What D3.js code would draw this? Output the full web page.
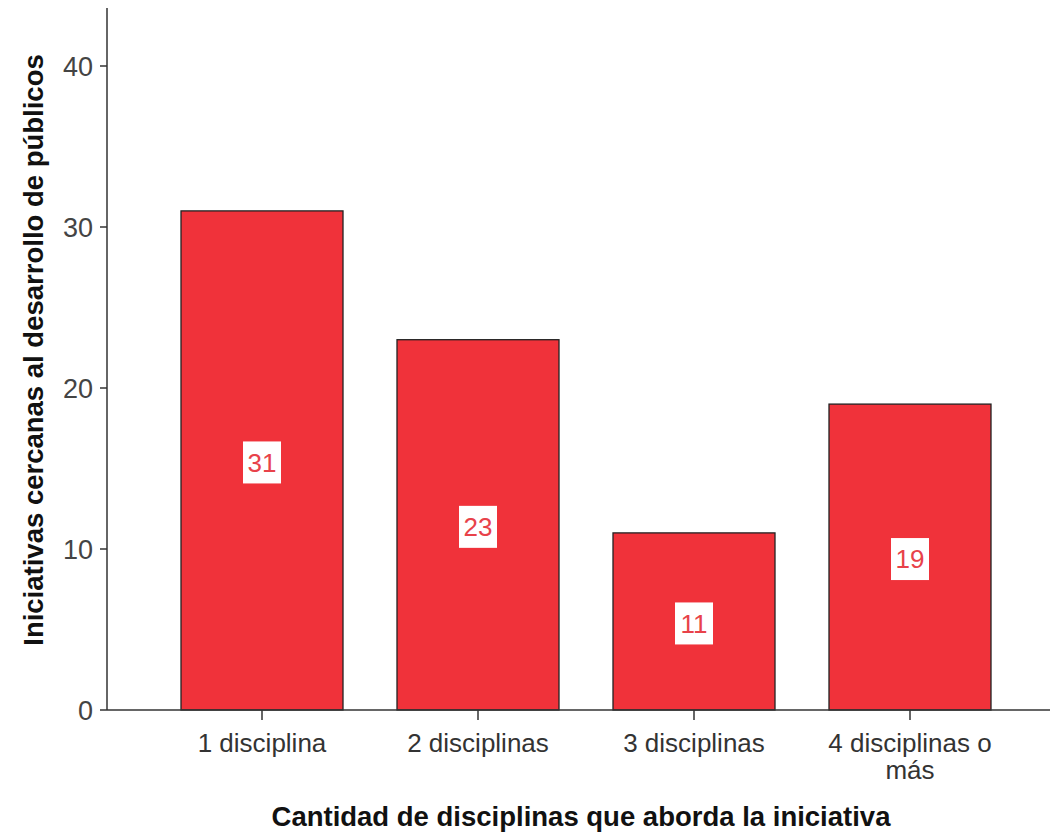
<!DOCTYPE html>
<html><head><meta charset="utf-8">
<script src="https://cdn.jsdelivr.net/npm/d3@7"></script>
<style>body{margin:0;background:#fff}svg{display:block}</style>
</head><body>
<script>
const categories = ["1 disciplina", "2 disciplinas", "3 disciplinas", "4 disciplinas o más"];
const categoryLines = [["1 disciplina"], ["2 disciplinas"], ["3 disciplinas"], ["4 disciplinas o", "más"]];
const values = [31, 23, 11, 19];
const yTicks = [0, 10, 20, 30, 40];
const xTitle = "Cantidad de disciplinas que aborda la iniciativa";
const yTitle = "Iniciativas cercanas al desarrollo de públicos";

const W = 1050, H = 832;
const FONT = "Liberation Sans, Arial, sans-serif";
const svg = d3.select("body").append("svg").attr("width", W).attr("height", H);

const y = d3.scaleLinear().domain([0, 10]).range([710, 549]);
const x = d3.scaleBand().domain(categories).range([154, 1018]).paddingInner(0.25).paddingOuter(0.125);

// bars
svg.selectAll("rect.bar").data(values).enter().append("rect")
  .attr("x", (d, i) => x(categories[i]))
  .attr("y", d => y(d))
  .attr("width", x.bandwidth())
  .attr("height", d => y(0) - y(d))
  .attr("fill", "#F0323A").attr("stroke", "#222").attr("stroke-width", 1.3);

// value labels
const lab = svg.selectAll("g.lab").data(values).enter().append("g")
  .attr("transform", (d, i) => `translate(${x(categories[i]) + x.bandwidth() / 2},${y(d / 2)})`);
lab.append("rect").attr("x", -19).attr("y", -19).attr("width", 38).attr("height", 42).attr("fill", "#fff");
lab.append("text").text(d => d).attr("text-anchor", "middle").attr("y", 2).attr("dy", "0.36em")
  .attr("font-family", FONT).attr("font-size", 26).attr("fill", "#E8424A");

// y axis
const yTop = y(43.6);
svg.append("line").attr("x1", 107).attr("x2", 107).attr("y1", yTop).attr("y2", 710).attr("stroke", "#333").attr("stroke-width", 1.5);
const yt = svg.selectAll("g.yt").data(yTicks).enter().append("g").attr("transform", d => `translate(0,${y(d)})`);
yt.append("line").attr("x1", 100).attr("x2", 107).attr("stroke", "#333").attr("stroke-width", 1.5);
yt.append("text").text(d => d).attr("x", 93).attr("dy", "0.36em").attr("text-anchor", "end")
  .attr("font-family", FONT).attr("font-size", 27).attr("fill", "#444");

// x axis
svg.append("line").attr("x1", 107).attr("x2", 1050).attr("y1", 710).attr("y2", 710).attr("stroke", "#333").attr("stroke-width", 1.5);
const xt = svg.selectAll("g.xt").data(categories).enter().append("g")
  .attr("transform", d => `translate(${x(d) + x.bandwidth() / 2},710)`);
xt.append("line").attr("y1", 0).attr("y2", 10).attr("stroke", "#333").attr("stroke-width", 1.5);
xt.each(function (d, i) {
  const t = d3.select(this).append("text").attr("text-anchor", "middle")
    .attr("font-family", FONT).attr("font-size", 26).attr("fill", "#333");
  categoryLines[i].forEach((ln, j) => t.append("tspan").attr("x", 0).attr("y", 42 + j * 27).text(ln));
});

// titles
svg.append("text").text(xTitle).attr("x", 581).attr("y", 826).attr("text-anchor", "middle")
  .attr("font-family", FONT).attr("font-weight", "bold").attr("font-size", 27.5).attr("fill", "#111");
svg.append("text").text(yTitle).attr("transform", "translate(43,350) rotate(-90)").attr("text-anchor", "middle")
  .attr("font-family", FONT).attr("font-weight", "bold").attr("font-size", 27.5).attr("fill", "#111");
</script>
</body></html>
